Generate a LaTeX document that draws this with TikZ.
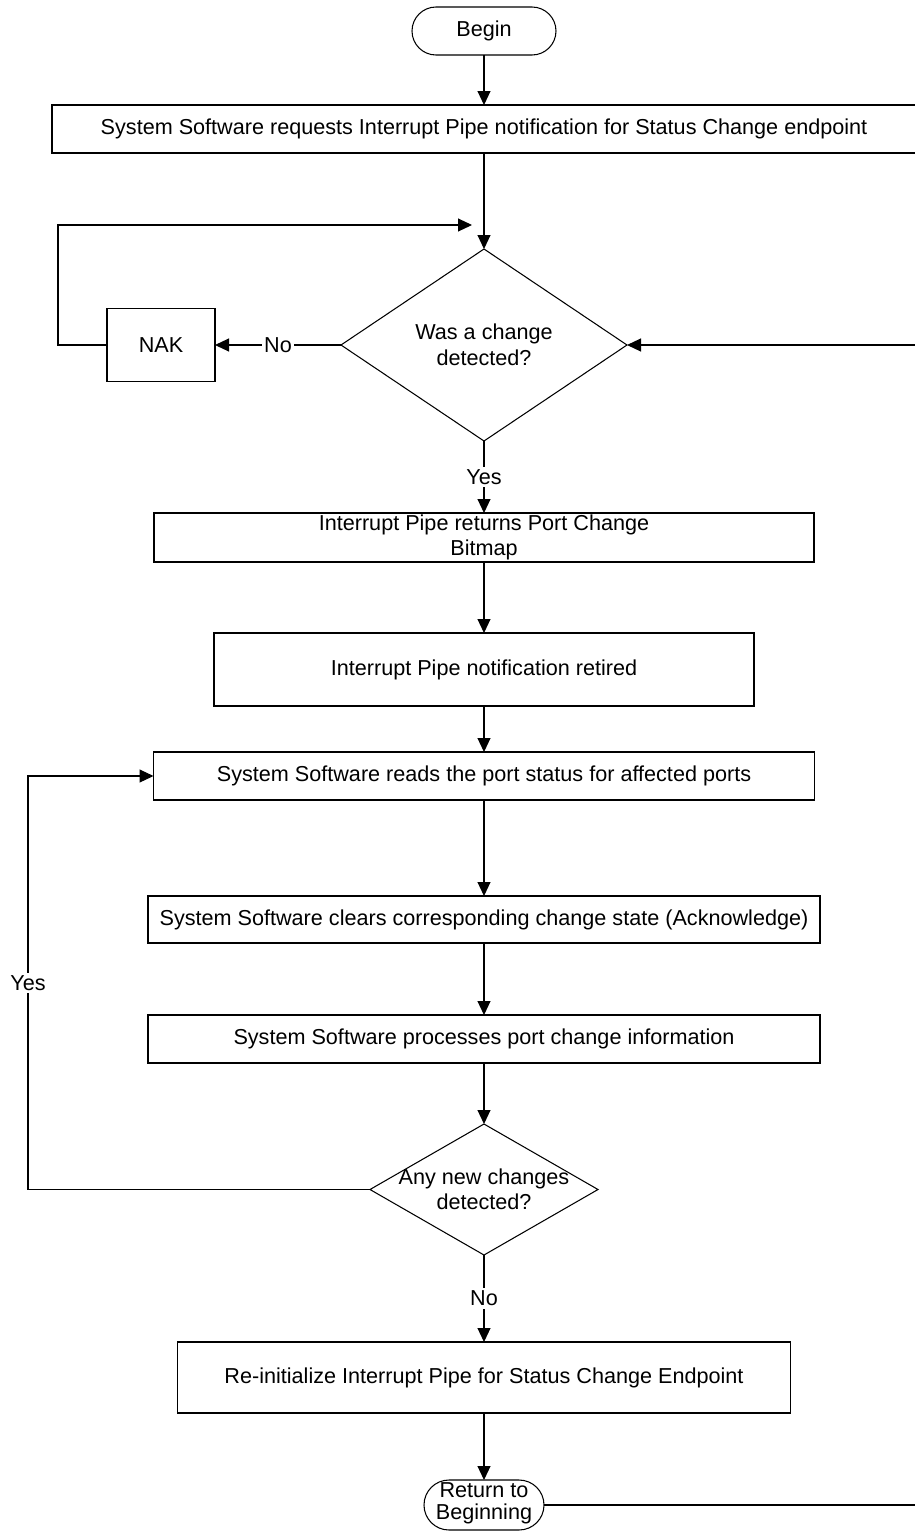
\documentclass[tikz,border=0pt]{standalone}
\usepackage{fontspec}
\setmainfont{Liberation Sans}
\usetikzlibrary{positioning,arrows.meta,shapes.geometric}

\begin{document}
\begin{tikzpicture}[
  font=\fontsize{12.3}{14.5}\selectfont,
  line width=0.6pt,
  term/.style={draw, rounded corners=4.8mm, minimum height=9.6mm, inner sep=0pt, outer sep=0pt},
  proc/.style={draw, align=center, inner sep=0pt, outer sep=0pt},
  dec/.style={draw, diamond, inner sep=0pt, outer sep=0pt},
  lbl/.style={fill=white, inner sep=1.5pt},
  flow/.style={-{Triangle[length=2.8mm, width=2.6mm]}}]

\useasboundingbox (0,0) rectangle (18.3,-30.62);

\node[term, minimum width=28.8mm] (start) at (9.68,-0.62) {Begin};
\node[proc, minimum width=172.8mm, minimum height=9.6mm, below=10mm of start] (reqbox)
  {System Software requests Interrupt Pipe notification for Status Change endpoint};
\node[dec, minimum width=57.2mm, minimum height=38.4mm, below=19.2mm of reqbox,
      label={[align=center]center:Was a change\\detected?}] (chk) {};
\node[proc, minimum width=21.6mm, minimum height=14.6mm, left=25.2mm of chk] (nak) {NAK};

\node[proc, minimum width=132mm, minimum height=9.8mm, below=14.4mm of chk] (bitmap)
  {Interrupt Pipe returns Port Change\\Bitmap};
\node[proc, minimum width=108mm, minimum height=14.6mm, below=14.2mm of bitmap] (retired)
  {Interrupt Pipe notification retired};
\node[proc, minimum width=132.2mm, minimum height=9.6mm, below=9.2mm of retired] (readst)
  {System Software reads the port status for affected ports};
\node[proc, minimum width=134.4mm, minimum height=9.4mm, below=19.2mm of readst] (clrst)
  {System Software clears corresponding change state (Acknowledge)};
\node[proc, minimum width=134.4mm, minimum height=9.6mm, below=14.4mm of clrst] (procst)
  {System Software processes port change information};
\node[dec, minimum width=45.6mm, minimum height=26.2mm, below=12.2mm of procst,
      label={[align=center]center:Any new changes\\detected?}] (anynew) {};
\node[proc, minimum width=122.6mm, minimum height=14.2mm, below=17.4mm of anynew] (reinit)
  {Re-initialize Interrupt Pipe for Status Change Endpoint};
\node[term, rounded corners=5mm, minimum width=24mm, minimum height=10mm, below=13.4mm of reinit,
      label={[align=center, font=\fontsize{12.3}{13}\selectfont, yshift=1pt]center:Return to\\Beginning}] (back) {};

\coordinate (nakin) at (9.44,-4.5);
\coordinate (rside) at (18.6,-6.9);

\draw[flow] (start) -- (reqbox);
\draw[flow] (reqbox) -- (chk);
\draw[flow] (chk) -- node[lbl] {No} (nak);
\draw[flow] (nak.west) -- ++(-0.98,0) |- (nakin);
\draw[flow] (chk) -- node[lbl] {Yes} (bitmap);
\draw[flow] (bitmap) -- (retired);
\draw[flow] (retired) -- (readst);
\draw[flow] (readst) -- (clrst);
\draw[flow] (clrst) -- (procst);
\draw[flow] (procst) -- (anynew);
\draw[flow] (anynew.west) -- ++(-6.84,0) |- node[lbl, pos=0.25] {Yes} (readst.west);
\draw[flow] (anynew) -- node[lbl] {No} (reinit);
\draw[flow] (reinit) -- (back);
\draw[flow] (back.east) -| (rside) |- (chk.east);
\end{tikzpicture}
\end{document}
